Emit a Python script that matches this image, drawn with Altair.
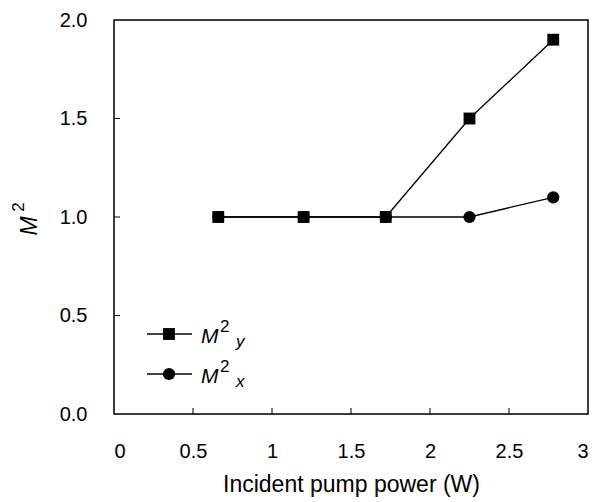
import altair as alt
import pandas as pd

power = [0.66, 1.2, 1.72, 2.25, 2.78]
m2_y = [1.0, 1.0, 1.0, 1.5, 1.9]
m2_x = [1.0, 1.0, 1.0, 1.0, 1.1]
x_ticks = [0, 0.5, 1, 1.5, 2, 2.5, 3]
y_ticks = [0.0, 0.5, 1.0, 1.5, 2.0]

W, H = 474, 394
FONT = "Liberation Sans"

df_y = pd.DataFrame({"p": power, "m": m2_y})
df_x = pd.DataFrame({"p": power, "m": m2_x})

xs = alt.Scale(domain=[0, 3], nice=False, zero=False)
ys = alt.Scale(domain=[0, 2], nice=False, zero=False)

xax = alt.Axis(values=x_ticks, labelExpr="datum.value", ticks=False, domain=False, grid=False,
               labelFontSize=20, labelFont=FONT, labelColor="black", labelPadding=27,
               title="Incident pump power (W)", titleFontSize=23, titleFont=FONT,
               titleFontWeight="normal", titleColor="black", titlePadding=12)
yax = alt.Axis(values=y_ticks, format=".1f", ticks=False, domain=False, grid=False,
               labelFontSize=20, labelFont=FONT, labelColor="black", labelPadding=27,
               title=None)

base_y = alt.Chart(df_y)
line_y = base_y.mark_line(color="black", strokeWidth=1.3).encode(
    x=alt.X("p:Q", scale=xs, axis=xax), y=alt.Y("m:Q", scale=ys, axis=yax))
pts_y = base_y.mark_point(shape="square", filled=True, size=140, color="black", opacity=1).encode(
    x=alt.X("p:Q", scale=xs), y=alt.Y("m:Q", scale=ys))

base_x = alt.Chart(df_x)
line_x = base_x.mark_line(color="black", strokeWidth=1.3).encode(
    x=alt.X("p:Q", scale=xs), y=alt.Y("m:Q", scale=ys))
pts_x = base_x.mark_point(shape="circle", filled=True, size=150, color="black", opacity=1).encode(
    x=alt.X("p:Q", scale=xs), y=alt.Y("m:Q", scale=ys))

# inward ticks
xt = alt.Chart(pd.DataFrame({"v": x_ticks[1:-1]})).mark_rule(color="black", strokeWidth=1).encode(
    x=alt.X("v:Q", scale=xs), y=alt.value(H), y2=alt.value(H - 6))
yt = alt.Chart(pd.DataFrame({"v": y_ticks[1:-1]})).mark_rule(color="black", strokeWidth=1).encode(
    y=alt.Y("v:Q", scale=ys), x=alt.value(0), x2=alt.value(6))

one = alt.Chart(pd.DataFrame({"k": [0]}))

# frame
frame = one.mark_rect(fill=None, stroke="black", strokeWidth=1.5).encode(
    x=alt.value(0), x2=alt.value(W), y=alt.value(0), y2=alt.value(H))

# y-axis title M^2 (rotated)
ytitle = [
    one.mark_text(text="M", font=FONT, fontSize=23, fontStyle="italic", angle=270, align="center",
                  baseline="middle", color="black").encode(x=alt.value(-84), y=alt.value(206)),
    one.mark_text(text="2", font=FONT, fontSize=17, angle=270, align="center",
                  baseline="middle", color="black").encode(x=alt.value(-95), y=alt.value(187)),
]

# legend
legend = []
rows = [("square", "y", 314), ("circle", "x", 354)]
for shape, sub, ry in rows:
    legend.append(one.mark_rule(color="black", strokeWidth=1.3).encode(
        x=alt.value(33), x2=alt.value(78), y=alt.value(ry)))
    legend.append(one.mark_point(shape=shape, filled=True, size=140 if shape == "square" else 150,
                                 color="black", opacity=1).encode(x=alt.value(55), y=alt.value(ry)))
    legend.append(one.mark_text(text="M", font=FONT, fontSize=21, fontStyle="italic", align="left",
                                baseline="alphabetic", color="black").encode(
        x=alt.value(87), y=alt.value(ry + 9)))
    legend.append(one.mark_text(text="2", font=FONT, fontSize=17, align="left",
                                baseline="alphabetic", color="black").encode(
        x=alt.value(106), y=alt.value(ry - 2)))
    legend.append(one.mark_text(text=sub, font=FONT, fontSize=17, fontStyle="italic", align="left",
                                baseline="alphabetic", color="black").encode(
        x=alt.value(122), y=alt.value(ry + 13)))

chart = alt.layer(line_y, line_x, pts_y, pts_x, xt, yt, frame, *ytitle, *legend).properties(
    width=W, height=H,
    autosize=alt.AutoSizeParams(type="none"),
    padding={"left": 106, "top": 12, "right": 5, "bottom": 88},
).configure_view(strokeWidth=0).configure(background="white")

chart.save("out.html", embed_options={"renderer": "svg", "actions": False})
